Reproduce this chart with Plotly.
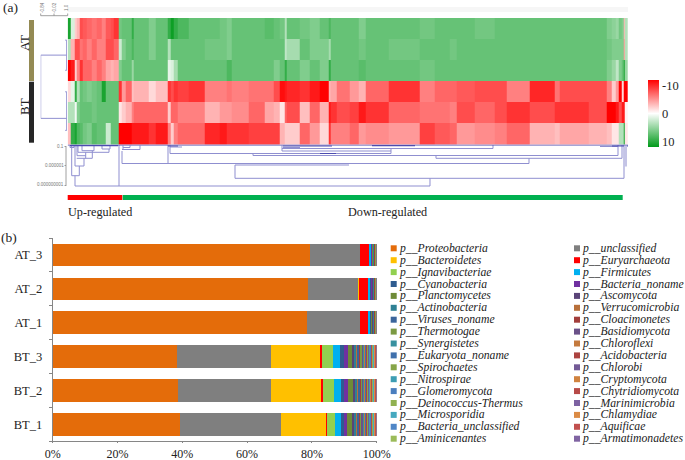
import plotly.graph_objects as go

W, H = 685, 460
SERIF = "Liberation Serif"

# ---------- heatmap (a) ----------
col_edges = [67.7,71,74.7,76.7,79.3,82.7,87,92,97,101.3,105.3,110.3,113.7,118.7,121.3,125.3,132,134,148.7,155.3,168,170.3,173.7,178,188.7,
             205,220,226.7,231.7,248.3,265,273.3,280,284.3,286.7,300,310,320,328.3,331,336.7,
             350,358.3,366,388.3,420,435,450,456.7,475,
             495,506.7,530,555,560,588.3,606.7,611.7,615.7,618.3,621.7,623.3,625,627.7]
row_at_a = [9,1.5,-2,-3,-7,-6.5,-6,-5.5,-6,-5,-6.5,-7,-8,5.5,6,6,8,6,5,6,8,9.5,8,7,6,
            6,5.5,5,6,6,6.5,6,5.5,3,6,5.5,5,6,7,6,6,
            6,5,6,6,5.5,6,6,6,5.5,
            6,6,6,6,6,6,5,4.5,4,5.5,5,-3,3]
row_at_b = [3,-3,-7,-7,-5.5,-6,-5,-6,-5,-5,-7,-7,-6,2,5,6,7,6,5,6,3,6,6,6,6,
            5.5,5.5,5,6,6,6,6,6,2.5,3.5,6,5,5,3.5,6,6,
            6,5.5,6,5.5,6,6,5.5,6,6,
            6,6,6,6,6,6,5.5,5,5,5,5,-4,3]
row_at_c = [-10,-9,-2,-5,-8,-6,-6,-5,-6,-5,-3.5,-3,-3.5,5,6,6,4,6,6,6,1,1.5,3.5,6,6,
            6,6,7,6,6,6,5,6,8,6,5,6,5,8,6,6,
            6,6.5,6,6,5.5,6,6,6,6,
            6,6,6,6,6,6,5,4,2.5,5,6,9,4]
row_bt_a = [-1.5,1,8,3,6,5.5,5,5.5,6,9,6,6,6,-8,-4,-6,-2.5,-3,-1.5,-2.5,-8,-7,-8,-7.5,-8,
            -5,-5,-5.5,-5,-5.5,-5.5,-7,-9.5,-9,-8.5,-8,-9,-10,-3,-3.5,-5.5,
            -4,-3,-6,-8,-5,-6,-6,-6.5,-7,
            -7,-5,-8.5,-5.5,-7,-7,-5,-2,-4,-10,-1.5,-10,-10]
row_bt_b = [3,3,.5,5,6,6,6,5.5,6,6,6,6,6,-1,-2,-3,-5,-6,-6,-6,-2,-6,-6,-5,-5,
            -3,-4,-4,-4.5,-6,-3.5,-3,-1,-6,-7,-2.5,-6,-3,-9,-8,-7,
            -7.5,-9,-8,-6,-5.5,-5.5,-5,-7,-6,
            -7,-8,-7,-8,-8,-7,-10,-10,-9,-7,-9,-9,-0.5]
row_bt_c = [-2.5,8,9,7,6.5,5.5,5,6.5,6,6,2,6,6,-10,-10,-10,-9,-9,-8,-9,-5,-2,-5,-6,-6,
            -8.5,-9,-8,-8,-7.5,-7.5,-7.5,-3,-2,-2,-6,-4,-1.5,-8,-5,-5,
            -6,-4,-4.5,-4,-7.5,-6.5,-6,-4,-4.5,
            -5,-6,-3,-2.5,-3.5,-3,-2.5,-1,-1,3,3,9,-1]
heat_rows = [row_at_a, row_at_b, row_at_c, row_bt_a, row_bt_b, row_bt_c]
colorbar_labels = ["-10", "0", "10"]

# column dendrogram: (height, x-left, x-right) and (x, height-from, height-to)
col_h = [(41.5,75,430),(33.8,235,624),(19,122,529),(20.5,235,349),(13.8,436,622),(11,253,618),(9,170,391),
         (4,282,493),(6.5,282,391),(21.5,75,84),(31.2,71.7,79.3),(13.8,76.7,92.3),(11.2,77,85.7),(7.8,78,109),
         (6.2,82,94),(4.5,102,110),(3,123,130),(5,122,140),(2.5,170,182),(3,283,300),(2,600,618),(3,70,74)]
col_v = [(119,0.5,41.5),(75,31.2,41.5),(430,33.8,41.5),(235,20.5,33.8),(624,0.5,33.8),(529,13.8,19),(122,6.5,19),
         (168,0.5,19),(436,11,13.8),(618,0.5,11),(622,0.5,13.8),(391,4,9),(170,0.5,9),(253,9,11),(493,0.5,4),(282,1,6.5),
         (71.7,0.5,31.2),(79.3,21.5,31.2),(75,1,21.5),(84,13.8,21.5),(92.3,6.2,13.8),(85.7,7.8,13.8),(77,1,11.2),
         (109,4.5,7.8),(78,1,7.8),(82,1,6.2),(94,1,6.2),(102,1,4.5),(110,1,4.5),(123,1,5),(130,1,3),(140,1,5),(70,1,3),(74,1,3)]
col_dark = [(0.5,67.7,628),(1.2,70,118),(1.5,283,332),(1.2,372,415),(9,320,336),(1.5,612,628),(1.5,168,178)]
col_pale = [(625.5,1,22)]
# row dendrogram: (row position, distance-from, distance-to) and (distance, row-from, row-to)
row_h = [(1.76,0,26),(4.76,0,26),(1.05,24.5,26),(2.48,24.5,26),(3.5,24.5,26),(5.33,24.5,26)]
row_v = [(0,1.76,4.76),(26,1.05,2.48),(26,3.5,5.33)]

# ---------- stacked bars (b) ----------
samples = ["BT_1", "BT_2", "BT_3", "AT_1", "AT_2", "AT_3"]
phyla = ["Proteobacteria","unclassified","Bacteroidetes","Euryarchaeota","Ignavibacteriae","Firmicutes",
         "Cyanobacteria","Bacteria_noname","Planctomycetes","Ascomycota","Actinobacteria","Verrucomicrobia",
         "Viruses_noname","Cloacimonetes","Thermotogae","Basidiomycota","Synergistetes","Chloroflexi",
         "Eukaryota_noname","Acidobacteria","Spirochaetes","Chlorobi","Nitrospirae","Cryptomycota",
         "Glomeromycota","Chytridiomycota","Deinococcus-Thermus","Marinimicrobia","Microsporidia","Chlamydiae",
         "Bacteria_unclassified","Aquificae","Aminicenantes","Armatimonadetes"]
colors = ["#E46C0A","#7F7F7F","#FFC000","#FF0000","#92D050","#00B0F0","#2F5C8F","#7030A0","#6F8B37","#5A4478",
          "#2F8093","#B8703A","#3B659B","#A23E3B","#7C9A42","#6A5188","#38919F","#C47A3E","#4071AC","#AC4340",
          "#87A548","#735A96","#3D9DB3","#D0823F","#4A7EBE","#B74A47","#91B151","#7D62A2","#46A9BF","#DB8B45",
          "#4F86C6","#C1504E","#9BBB59","#8064A2"]
#              BT_1  BT_2  BT_3  AT_1  AT_2  AT_3
abundance = [
    [39.2, 38.6, 38.4, 78.5, 78.7, 79.5],
    [31.2, 28.8, 28.9, 16.3, 15.6, 15.3],
    [13.9, 15.4, 15.1, 0.05, 0.1, 0.05],
    [0.4, 0.6, 0.5, 2.3, 3.0, 2.9],
    [2.4, 3.4, 3.6, 0.05, 0.05, 0.05],
    [2.0, 2.2, 2.1, 0.6, 0.5, 0.4],
    [1.0, 0.9, 1.2, 0.3, 0.3, 0.25],
    [0.9, 1.2, 1.2, 0.25, 0.3, 0.25],
    [1.45, 1.5, 1.2, 0.2, 0.2, 0.15],
    [0.6, 0.6, 0.7, 0.25, 0.2, 0.15],
    [0.55, 0.6, 0.6, 0.2, 0.2, 0.15],
    [0.5, 0.4, 0.45, 0.1, 0.1, 0.1],
    [0.5, 0.5, 0.5, 0.15, 0.1, 0.1],
    [0.45, 0.3, 0.4, 0.05, 0.05, 0.05],
    [0.35, 0.3, 0.4, 0.05, 0.05, 0.05],
    [0.35, 0.35, 0.35, 0.05, 0.05, 0.05],
    [0.3, 0.3, 0.3, 0.05, 0.05, 0.05],
    [0.35, 0.35, 0.35, 0.05, 0.05, 0.05],
    [0.35, 0.35, 0.35, 0.05, 0.05, 0.05],
    [0.3, 0.3, 0.3, 0.03, 0.03, 0.03],
    [0.3, 0.3, 0.3, 0.03, 0.03, 0.03],
    [0.3, 0.25, 0.25, 0.03, 0.03, 0.03],
    [0.25, 0.25, 0.25, 0.03, 0.03, 0.03],
    [0.25, 0.25, 0.25, 0.03, 0.03, 0.03],
    [0.25, 0.25, 0.25, 0.02, 0.02, 0.02],
    [0.25, 0.2, 0.25, 0.02, 0.02, 0.02],
    [0.2, 0.2, 0.2, 0.02, 0.02, 0.02],
    [0.2, 0.2, 0.2, 0.02, 0.02, 0.02],
    [0.2, 0.2, 0.2, 0.02, 0.02, 0.02],
    [0.2, 0.2, 0.2, 0.02, 0.02, 0.02],
    [0.15, 0.15, 0.15, 0.02, 0.02, 0.02],
    [0.15, 0.15, 0.15, 0.02, 0.02, 0.02],
    [0.15, 0.15, 0.15, 0.02, 0.02, 0.02],
    [0.15, 0.15, 0.15, 0.02, 0.02, 0.02],
]
x_ticks = [0, 20, 40, 60, 80, 100]
x_tick_labels = ["0%", "20%", "40%", "60%", "80%", "100%"]


def px(x):
    return x / W


def py(y):
    return 1 - y / H


fig = go.Figure()

# heatmap: drawn with the sign flipped so that -10 sits on top of the colour bar
fig.add_trace(go.Heatmap(
    x=col_edges, y=list(range(7)), z=[[-v for v in r] for r in heat_rows],
    xaxis="x", yaxis="y", zmin=-10, zmax=10, hoverinfo="skip",
    colorscale=[[0, "#009A1A"], [0.5, "#FFFFFF"], [1, "#FF0000"]],
    colorbar=dict(thickness=11, thicknessmode="pixels", len=67, lenmode="pixels",
                  x=px(648), xanchor="left", xpad=0, y=py(113.5), yanchor="middle", ypad=0,
                  outlinewidth=0, ticks="", tickvals=[8.4, 0, -8.4], ticktext=colorbar_labels,
                  tickfont=dict(family=SERIF, size=12.5, color="#262626")),
))


def segs(hs, vs):
    xs, ys = [], []
    for h, a, b in hs:
        xs += [a, b, None]
        ys += [h, h, None]
    for x, a, b in vs:
        xs += [x, x, None]
        ys += [a, b, None]
    return xs, ys


DEND = "#8F8FD0"
x1, y1 = segs(col_h, col_v)
fig.add_trace(go.Scatter(x=x1, y=y1, xaxis="x2", yaxis="y2", mode="lines", hoverinfo="skip",
                         line=dict(color=DEND, width=1), showlegend=False))
x1, y1 = segs(col_dark, [])
fig.add_trace(go.Scatter(x=x1, y=y1, xaxis="x2", yaxis="y2", mode="lines", hoverinfo="skip",
                         line=dict(color="#4C4CB0", width=1.2), showlegend=False))
x1, y1 = segs([], col_pale)
fig.add_trace(go.Scatter(x=x1, y=y1, xaxis="x2", yaxis="y2", mode="lines", hoverinfo="skip",
                         line=dict(color="#C4C4E6", width=3), showlegend=False))
rx, ry = [], []
for r, a, b in row_h:
    rx += [a, b, None]
    ry += [r, r, None]
for d, a, b in row_v:
    rx += [d, d, None]
    ry += [a, b, None]
fig.add_trace(go.Scatter(x=rx, y=ry, xaxis="x3", yaxis="y", mode="lines", hoverinfo="skip",
                         line=dict(color=DEND, width=1), showlegend=False))

for name, color, vals in zip(phyla, colors, abundance):
    fig.add_trace(go.Bar(y=samples, x=vals, name=name, orientation="h", xaxis="x4", yaxis="y4",
                         marker=dict(color=color, line=dict(width=0)), showlegend=False))

ann = []
def text(x, y, s, size=12.2, xanchor="left", color="#222222", angle=0, family=SERIF):
    ann.append(dict(x=px(x), y=py(y), xref="paper", yref="paper", text=s, showarrow=False, xanchor=xanchor,
                    yanchor="middle", textangle=angle, font=dict(family=family, size=size, color=color),
                    borderpad=0, borderwidth=0))

text(2.5, 7.5, "(a)", 13.5)
text(0.5, 237, "(b)", 13.5)
text(24, 43, "AT", 13, "center", angle=-90)
text(24, 107, "BT", 13, "center", angle=-90)
text(67.5, 212, "Up-regulated")
text(347.5, 212, "Down-regulated")
for xp, s in [(42, "-0.84"), (54, "-0.02"), (66, "1.0")]:
    text(xp, 8, s, 4.5, "center", "#777777", -90, "Liberation Sans")
for yp, s in [(146.5, "0.1"), (165.5, "0.000001"), (184, "0.000000001")]:
    text(64, yp, s, 4.5, "right", "#777777", 0, "Liberation Sans")

shapes = []
def rect(x0, y0, x1, y1, color):
    shapes.append(dict(type="rect", xref="paper", yref="paper", x0=px(x0), x1=px(x1), y0=py(y0), y1=py(y1),
                       fillcolor=color, line=dict(width=0), layer="above"))

def line(x0, y0, x1, y1, color):
    shapes.append(dict(type="line", xref="paper", yref="paper", x0=px(x0), x1=px(x1), y0=py(y0), y1=py(y1),
                       line=dict(color=color, width=0.8)))

rect(29, 20, 34, 81, "#948A54")
rect(29, 81.7, 34, 142.7, "#262626")
rect(67.7, 195, 122.3, 200, "#FF0000")
rect(122.7, 195, 622.7, 200, "#00B050")
rect(67.7, 7, 628, 12, "#F6F6F6")
line(40.7, 15.7, 67.7, 15.7, "#888888")
for xp in (40.7, 54, 67.7):
    line(xp, 13.5, xp, 15.7, "#888888")
line(66, 146, 66, 186, "#888888")
for yp in (146.5, 165.5, 185.5):
    line(64.5, yp, 66, yp, "#888888")

for i, (name, color) in enumerate(zip(phyla, colors)):
    col, row = i % 2, i // 2
    x0 = 390.7 if col == 0 else 574
    y0 = 248.3 + 11.9 * row
    rect(x0, y0 - 3, x0 + 6, y0 + 3, color)
    text(x0 + 8.2, y0, "<i>p__" + name + "</i>", 11.7, color="#222222")

hidden = dict(visible=False, showgrid=False, zeroline=False)
AXIS = "#868686"
fig.update_layout(
    width=W, height=H, margin=dict(l=0, r=0, t=0, b=0, autoexpand=False), paper_bgcolor="white", plot_bgcolor="white",
    barmode="stack", barnorm="percent", bargap=0.335, showlegend=False,
    xaxis=dict(hidden, domain=[px(67.7), px(628)], range=[67.7, 628]),
    yaxis=dict(hidden, domain=[py(144.5), py(18)], range=[6, 0]),
    xaxis2=dict(hidden, domain=[px(67.7), px(628)], range=[67.7, 628], anchor="y2"),
    yaxis2=dict(hidden, domain=[py(190), py(144.5)], range=[45.5, 0], anchor="x2"),
    xaxis3=dict(hidden, domain=[px(40.7), px(67)], range=[0, 26.3], anchor="y"),
    xaxis4=dict(domain=[px(52.7), px(376.7)], range=[0, 100], anchor="y4", tickvals=x_ticks, ticktext=x_tick_labels,
                showgrid=False, zeroline=False, showline=True, linecolor=AXIS, linewidth=1, ticks="outside",
                ticklen=1, tickcolor=AXIS, tickfont=dict(family=SERIF, size=12, color="#222222")),
    yaxis4=dict(domain=[py(441.3), py(238)], anchor="x4", type="category", categoryorder="array",
                categoryarray=samples, showgrid=False, zeroline=False, showline=True, linecolor=AXIS, linewidth=1,
                ticks="outside", tickson="boundaries", ticklen=3, tickcolor=AXIS, ticklabelstandoff=7,
                tickfont=dict(family=SERIF, size=12.5, color="#222222")),
    annotations=ann, shapes=shapes,
)
fig.write_html("out.html", config={"displayModeBar": False},
               post_script="document.body.style.margin='0';document.documentElement.style.overflow='hidden';")
